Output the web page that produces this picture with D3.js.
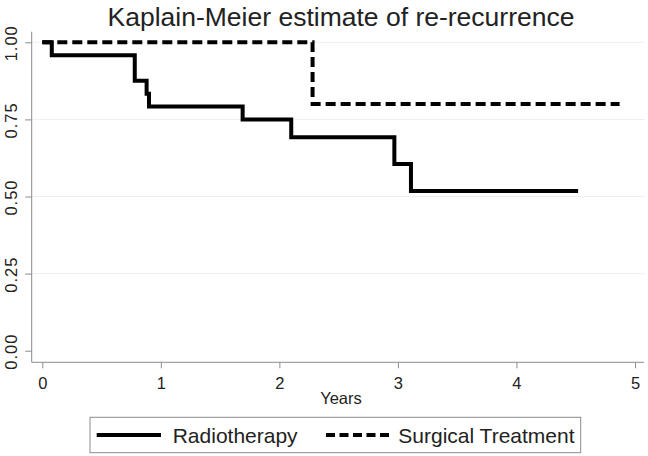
<!DOCTYPE html>
<html>
<head>
<meta charset="utf-8">
<script src="https://cdn.jsdelivr.net/npm/d3@7"></script>
<style>
  body { margin: 0; background: #fff; }
  svg { display: block; font-family: "Liberation Sans", Arial, sans-serif; }
</style>
</head>
<body>
<div id="container"></div>
<script>
// Kaplan-Meier step data (years, survival)
const radioTimes = [0, 0.08, 0.78, 0.88, 0.90, 1.69, 2.10, 2.97, 3.11, 4.52];
const radioSurv  = [1, 0.958, 0.875, 0.833, 0.792, 0.75, 0.692, 0.605, 0.518, 0.518];
const surgTimes  = [0, 2.28, 4.87];
const surgSurv   = [1, 0.8, 0.8];

const xTicks = [0, 1, 2, 3, 4, 5];
const yTicks = [0, 0.25, 0.5, 0.75, 1];
const gridTicks = [0.25, 0.5, 0.75, 1];

const titleText = 'Kaplain-Meier estimate of re-recurrence';
const xLabel = 'Years';
const legendNames = ['Radiotherapy', 'Surgical Treatment'];

// chart dimensions
const w = 648;
const h = 456;
const plotLeft = 31.7;
const plotRight = 645;
const plotTop = 31.7;
const plotBottom = 362.3;
const textColor = '#222';
const axisColor = '#8c8c8c';

const xScale = d3.scaleLinear()
                .domain([0, 5])
                .range([42.3, 635]);

const yScale = d3.scaleLinear()
                .domain([0, 1])
                .range([350.7, 42.3]);

const svg = d3.select('#container')
                .append('svg')
                .attr('width', w)
                .attr('height', h);

// title
svg.append('text')
    .attr('x', 341)
    .attr('y', 25.7)
    .attr('text-anchor', 'middle')
    .attr('font-size', 26.5)
    .attr('fill', textColor)
    .text(titleText);

// gridlines
svg.append('g')
    .selectAll('line')
    .data(gridTicks)
    .join('line')
    .attr('x1', plotLeft + 1)
    .attr('x2', plotRight)
    .attr('y1', d => yScale(d))
    .attr('y2', d => yScale(d))
    .attr('stroke', '#efefef')
    .attr('stroke-width', 1);

// axes
const xAxis = d3.axisBottom(xScale)
                .tickValues(xTicks)
                .tickFormat(d3.format('d'))
                .tickSize(6)
                .tickPadding(9);

const yAxis = d3.axisLeft(yScale)
                .tickValues(yTicks)
                .tickFormat(d3.format('.2f'))
                .tickSize(6.5);

const gx = svg.append('g')
    .attr('id', 'x-axis')
    .attr('transform', `translate(0, ${plotBottom})`)
    .call(xAxis);
gx.select('.domain').attr('d', `M${plotLeft},0H${plotRight - 1}`).attr('stroke', axisColor);
gx.selectAll('.tick line').attr('stroke', axisColor);
gx.selectAll('.tick text')
    .attr('font-size', 16.5)
    .attr('font-family', '"Liberation Sans", Arial, sans-serif')
    .attr('fill', textColor);

const gy = svg.append('g')
    .attr('id', 'y-axis')
    .attr('transform', `translate(${plotLeft}, 0)`)
    .call(yAxis);
gy.select('.domain').attr('d', `M0,${plotTop}V${plotBottom}`).attr('stroke', axisColor);
gy.selectAll('.tick line').attr('stroke', axisColor);
gy.selectAll('.tick text')
    .attr('font-size', 16.5)
    .attr('letter-spacing', 1)
    .attr('font-family', '"Liberation Sans", Arial, sans-serif')
    .attr('fill', textColor)
    .attr('x', null)
    .attr('dy', null)
    .attr('text-anchor', 'middle')
    .attr('transform', 'translate(-15, 0.5) rotate(-90)');

// x axis label
svg.append('text')
    .attr('x', 341)
    .attr('y', 404)
    .attr('text-anchor', 'middle')
    .attr('font-size', 16.5)
    .attr('fill', textColor)
    .text(xLabel);

// survival curves
const line = d3.line()
                .x(d => xScale(d[0]))
                .y(d => yScale(d[1]))
                .curve(d3.curveStepAfter);

const radioData = radioTimes.map((t, i) => [t, radioSurv[i]]);
const surgData = surgTimes.map((t, i) => [t, surgSurv[i]]);

svg.append('path')
    .datum(radioData)
    .attr('d', line)
    .attr('fill', 'none')
    .attr('stroke', '#000')
    .attr('stroke-width', 4);

svg.append('path')
    .datum(surgData)
    .attr('d', line)
    .attr('fill', 'none')
    .attr('stroke', '#000')
    .attr('stroke-width', 4)
    .attr('stroke-dasharray', '10,5');

// legend
const legend = svg.append('g').attr('id', 'legend');

legend.append('rect')
    .attr('x', 90)
    .attr('y', 417.3)
    .attr('width', 490.7)
    .attr('height', 35.4)
    .attr('fill', '#fff')
    .attr('stroke', axisColor)
    .attr('stroke-width', 1);

legend.append('line')
    .attr('x1', 96.7).attr('x2', 161)
    .attr('y1', 435).attr('y2', 435)
    .attr('stroke', '#000')
    .attr('stroke-width', 4);

legend.append('text')
    .attr('x', 172.7)
    .attr('y', 442.6)
    .attr('font-size', 21)
    .attr('fill', textColor)
    .text(legendNames[0]);

legend.append('line')
    .attr('x1', 326).attr('x2', 389)
    .attr('y1', 435).attr('y2', 435)
    .attr('stroke', '#000')
    .attr('stroke-width', 4)
    .attr('stroke-dasharray', '9,4.5');

legend.append('text')
    .attr('x', 398.3)
    .attr('y', 442.6)
    .attr('font-size', 21)
    .attr('fill', textColor)
    .text(legendNames[1]);
</script>
</body>
</html>
